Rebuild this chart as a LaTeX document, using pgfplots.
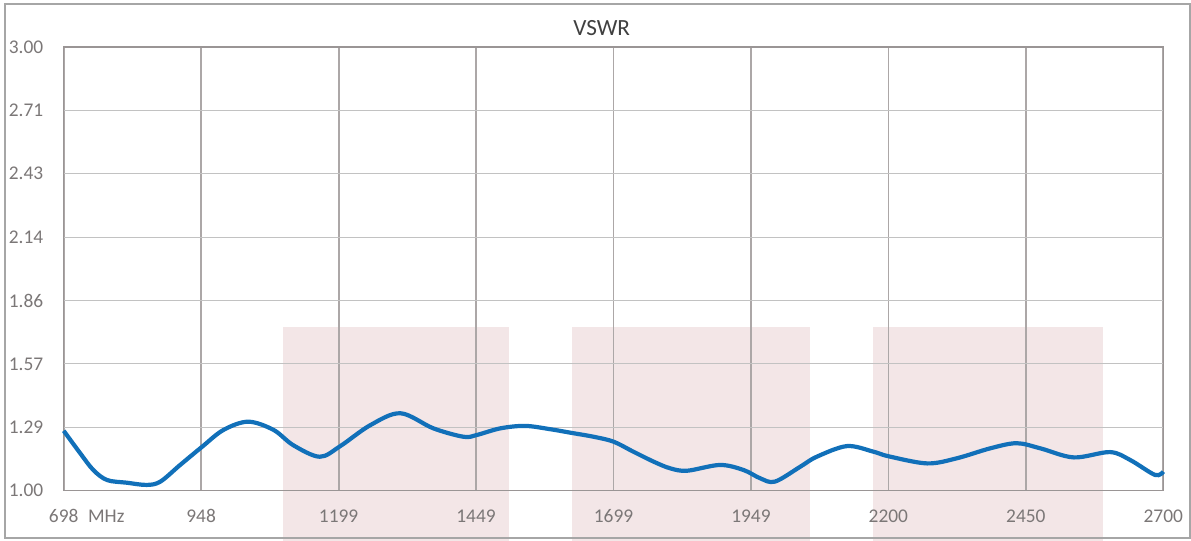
\documentclass[border=0pt]{standalone}
\usepackage{pgfplots}
\pgfplotsset{compat=1.18}
\usepackage{fontspec}
\setmainfont{Carlito}
\definecolor{curve}{HTML}{1170B9}
\definecolor{band}{HTML}{F3E6E7}
\definecolor{vgrid}{HTML}{ACA7A7}
\definecolor{hgrid}{HTML}{C2C2C2}
\definecolor{axiscol}{HTML}{9A9595}
\definecolor{tickgray}{HTML}{7B7777}
\definecolor{titlecol}{HTML}{404040}
\definecolor{bordercol}{HTML}{A6A6A6}
\begin{document}
\begin{tikzpicture}
\begin{axis}[
  set layers,
  anchor=south west, at={(0,0)},
  scale only axis, width=549.8pt, height=221.9pt,
  xmin=698, xmax=2700, ymin=1, ymax=3,
  clip=false,
  xtick={698,948.25,1198.5,1448.75,1699,1949.25,2199.5,2449.75,2700},
  xticklabels={698\rlap{\hspace{0.5em}MHz},948,1199,1449,1699,1949,2200,2450,2700},
  ytick={1,1.285714,1.571429,1.857143,2.142857,2.428571,2.714286,3},
  yticklabels={1.00,1.29,1.57,1.86,2.14,2.43,2.71,3.00},
  major tick length=0pt,
  xmajorgrids, ymajorgrids,
  x grid style={color=vgrid, line width=0.9pt},
  y grid style={color=hgrid, line width=0.5pt},
  axis line style={color=axiscol, line width=0.8pt},
  ticklabel style={font=\fontsize{9.7}{11}\selectfont, text=tickgray},
  xticklabel style={anchor=base, yshift=-16pt},
  yticklabel style={anchor=east, inner sep=0pt, xshift=-10pt},
]
\addplot[draw=none, fill=band, on layer=axis background, forget plot] coordinates {(1097,0.775) (1509,0.775) (1509,1.736) (1097,1.736)};
\addplot[draw=none, fill=band, on layer=axis background, forget plot] coordinates {(1623,0.775) (2057,0.775) (2057,1.736) (1623,1.736)};
\addplot[draw=none, fill=band, on layer=axis background, forget plot] coordinates {(2171,0.775) (2590,0.775) (2590,1.736) (2171,1.736)};
\addplot[color=curve, line width=2.1pt, smooth, tension=0.55] coordinates {
(698,1.270) (728,1.169) (752,1.093) (777,1.048) (813,1.036) (849,1.026) (874,1.041) (910,1.116) (950,1.198) (989,1.274) (1034,1.311) (1080,1.274) (1116,1.205) (1164,1.153) (1201,1.200) (1256,1.295) (1311,1.349) (1371,1.281) (1426,1.243) (1450,1.251) (1493,1.281) (1538,1.292) (1584,1.277) (1626,1.259) (1663,1.243) (1699,1.221) (1735,1.176) (1772,1.131) (1802,1.101) (1833,1.090) (1893,1.116) (1936,1.093) (1966,1.056) (1993,1.041) (2039,1.108) (2069,1.153) (2124,1.201) (2172,1.176) (2200,1.155) (2270,1.123) (2324,1.146) (2385,1.191) (2433,1.214) (2476,1.191) (2537,1.150) (2603,1.174) (2640,1.138) (2685,1.071) (2700,1.086)
};
\end{axis}
\draw[color=bordercol, line width=1pt] (-29.1pt,-23.9pt) rectangle (563.15pt,243.1pt);
\node[font=\fontsize{11.6}{13}\selectfont, text=titlecol] at (269pt,231.35pt) {VSWR};
\path (-31.85pt,-25.15pt) rectangle (563.65pt,245.35pt);
\end{tikzpicture}
\end{document}
